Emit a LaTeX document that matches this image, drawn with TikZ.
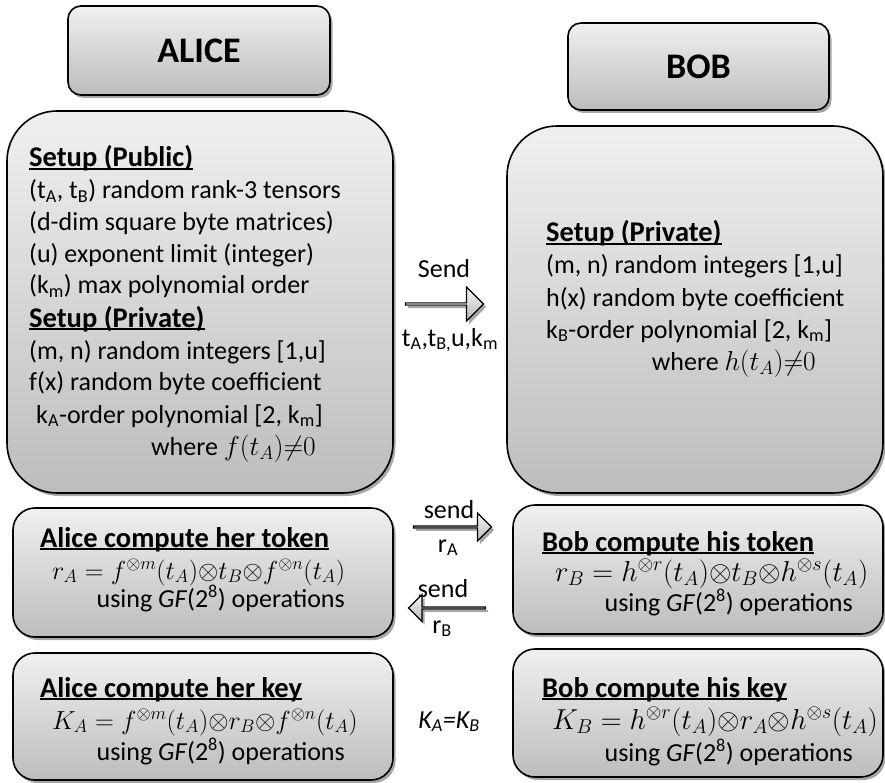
\documentclass[tikz,border=0pt]{standalone}
\usepackage{graphicx}
\usepackage{fontspec}
\setmainfont{Carlito}
\usetikzlibrary{shapes.arrows,shadows}
\newsavebox\myulbox
\newcommand\myul[1]{\sbox\myulbox{#1}\rlap{\rule[-0.12em]{\wd\myulbox}{0.07em}}\usebox\myulbox}
\newcommand\sub[1]{\textsubscript{#1}}
\newcommand\bigmath[2][1.1]{\scalebox{#1}{$#2$}}
\tikzset{
  shadowed/.style={drop shadow={shadow xshift=2.5pt,shadow yshift=-3pt,opacity=0.35,fill=black}},
  boxbase/.style={draw=black,line width=1.6pt,top color=black!6,bottom color=black!26,shadowed,inner sep=0pt},
  namebox/.style={boxbase,rounded corners=13pt,font=\bfseries\fontsize{36pt}{40pt}\selectfont},
  bigbox/.style={boxbase,rounded corners=50pt},
  stepbox/.style={boxbase,rounded corners=22pt},
  blockarrow/.style={single arrow,draw=black,line width=1.2pt,top color=black!4,bottom color=black!28,
     shadowed,inner sep=0pt,single arrow head indent=0pt},
  txt/.style={inner sep=0pt,font=\fontsize{26pt}{31.7pt}\selectfont},
  ttl/.style={inner sep=0pt,font=\bfseries\fontsize{28.5pt}{31.7pt}\selectfont},
  mth/.style={inner sep=0pt,font=\fontsize{26pt}{31.7pt}\selectfont},
}
\begin{document}
\begin{tikzpicture}[x=1pt,y=-1pt]
\useasboundingbox (0,0) rectangle (885,783);
% name boxes
\node[namebox,minimum width=262pt,minimum height=89pt] (alice) at (199,50.5) {ALICE};
\node[namebox,minimum width=261pt,minimum height=87pt] (bob) at (698.5,66.5) {BOB};
% setup boxes
\node[bigbox,minimum width=386pt,minimum height=382pt] (asetup) at (200,302) {};
\node[bigbox,minimum width=376pt,minimum height=367pt] (bsetup) at (695,309.5) {};
% step boxes
\node[stepbox,minimum width=380pt,minimum height=129pt] (atoken) at (203,572.5) {};
\node[stepbox,minimum width=380pt,minimum height=127pt] (akey) at (203,716.5) {};
\node[stepbox,minimum width=370pt,minimum height=129pt] (btoken) at (698,569.5) {};
\node[stepbox,minimum width=370pt,minimum height=128pt] (bkey) at (698,713) {};
% arrows
\node[blockarrow,minimum height=78pt,minimum width=34pt,single arrow head extend=8.5pt] (sendarrow) at (444,304) {};
\node[blockarrow,minimum height=78pt,minimum width=28pt,single arrow head extend=8pt] (raarrow) at (452,527) {};
\node[blockarrow,minimum height=77pt,minimum width=27pt,single arrow head extend=7.5pt,shape border rotate=180] (rbarrow) at (447.5,608) {};
% arrow labels
\node[txt,anchor=base] (sendlbl) at (444,278) {Send};
\node[txt,anchor=base] (sendvals) at (450,346) {t\sub{A},t\sub{B,}u,k\sub{m}};
\node[txt,anchor=base] (sendra) at (449,518) {send};
\node[txt,anchor=base] (ralbl) at (448,552) {r\sub{A}};
\node[txt,anchor=base] (sendrb) at (443,597) {send};
\node[txt,anchor=base] (rblbl) at (442,633) {r\sub{B}};
\node[txt,anchor=base] (kakb) at (449,728) {\textit{K\sub{A}=K\sub{B}}};
% Alice setup text
\node[ttl,anchor=base west] (a1) at (29,167) {\myul{Setup (Public)}};
\node[txt,anchor=base west] (a2) at (29,199) {(t\sub{A}, t\sub{B}) random rank-3 tensors};
\node[txt,anchor=base west] (a3) at (29,231) {(d-dim square byte matrices)};
\node[txt,anchor=base west] (a4) at (29,263) {(u) exponent limit (integer)};
\node[txt,anchor=base west] (a5) at (29,294) {(k\sub{m}) max polynomial order};
\node[ttl,anchor=base west] (a6) at (29,327) {\myul{Setup (Private)}};
\node[txt,anchor=base west] (a7) at (29,359) {(m, n) random integers [1,u]};
\node[txt,anchor=base west] (a8) at (29,390) {f(x) random byte coefficient};
\node[txt,anchor=base west] (a9) at (36,423) {k\sub{A}-order polynomial [2, k\sub{m}]};
\node[txt,anchor=base east] (a10) at (316,455) {where \bigmath{f(t_A){\neq}0}};
% Bob setup text
\node[ttl,anchor=base west] (b1) at (546,242) {\myul{Setup (Private)}};
\node[txt,anchor=base west] (b2) at (546,274) {(m, n) random integers [1,u]};
\node[txt,anchor=base west] (b3) at (546,306) {h(x) random byte coefficient};
\node[txt,anchor=base west] (b4) at (546,338) {k\sub{B}-order polynomial [2, k\sub{m}]};
\node[txt,anchor=base east] (b5) at (816,370) {where \bigmath{h(t_A){\neq}0}};
% Alice token
\node[ttl,anchor=base west] (at1) at (40,547) {\myul{Alice compute her token}};
\node[mth,anchor=base west] (at2) at (52,579) {\bigmath[1.05]{r_A = f^{\otimes m}(t_A){\otimes}t_B{\otimes}f^{\otimes n}(t_A)}};
\node[txt,anchor=base east] (at3) at (345,607) {using \textit{GF}(2\textsuperscript{8}) operations};
% Alice key
\node[ttl,anchor=base west] (ak1) at (40,697) {\myul{Alice compute her key}};
\node[mth,anchor=base west] (ak2) at (52,729) {\bigmath[1.05]{K_A = f^{\otimes m}(t_A){\otimes}r_B{\otimes}f^{\otimes n}(t_A)}};
\node[txt,anchor=base east] (ak3) at (345,760) {using \textit{GF}(2\textsuperscript{8}) operations};
% Bob token
\node[ttl,anchor=base west] (bt1) at (542,551) {\myul{Bob compute his token}};
\node[mth,anchor=base west] (bt2) at (555,581) {\bigmath[1.16]{r_B = h^{\otimes r}(t_A){\otimes}t_B{\otimes}h^{\otimes s}(t_A)}};
\node[txt,anchor=base east] (bt3) at (853,611) {using \textit{GF}(2\textsuperscript{8}) operations};
% Bob key
\node[ttl,anchor=base west] (bk1) at (542,697) {\myul{Bob compute his key}};
\node[mth,anchor=base west] (bk2) at (552,729) {\bigmath[1.16]{K_B = h^{\otimes r}(t_A){\otimes}r_A{\otimes}h^{\otimes s}(t_A)}};
\node[txt,anchor=base east] (bk3) at (853,761) {using \textit{GF}(2\textsuperscript{8}) operations};
\end{tikzpicture}
\end{document}
